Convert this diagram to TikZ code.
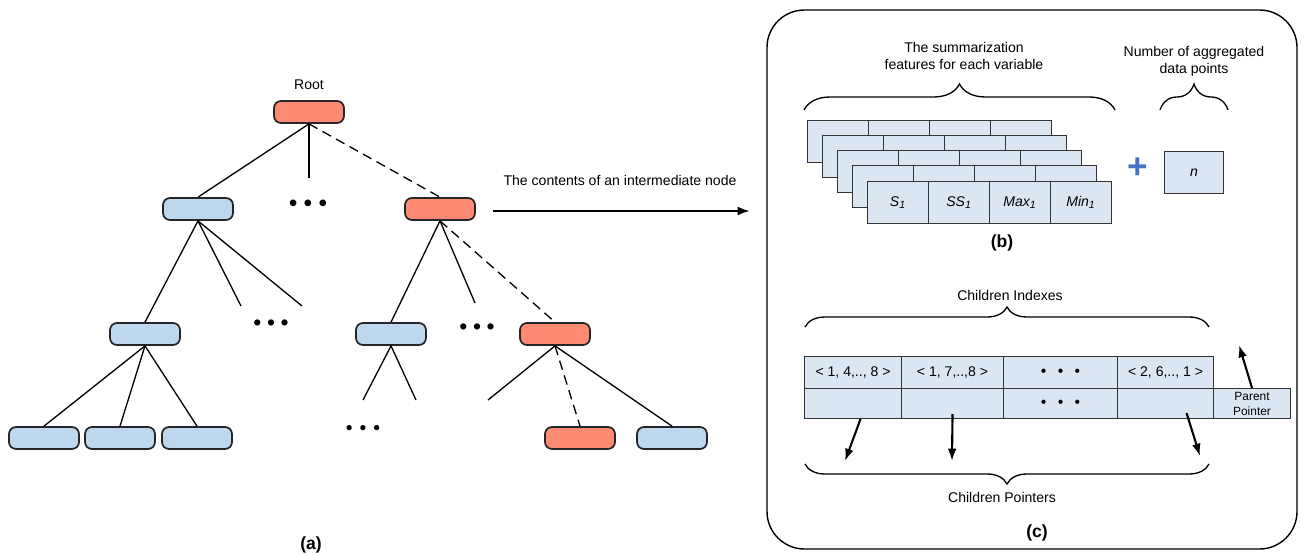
\documentclass[tikz,border=0pt]{standalone}
\usepackage{fontspec}
\setmainfont{Liberation Sans}
\usetikzlibrary{arrows.meta,decorations.pathreplacing}

\definecolor{treered}{HTML}{FF8A73}
\definecolor{treeblue}{HTML}{BDD7EE}
\definecolor{cellblue}{HTML}{DCE6F2}
\definecolor{plusblue}{HTML}{4472C4}

% three bullets with a given gap between them
\newcommand{\threedots}[1]{\textbullet\hspace{#1}\textbullet\hspace{#1}\textbullet}

\begin{document}
\begin{tikzpicture}[x=0.02cm, y=-0.02cm,
  txt/.style={font=\fontsize{8}{9.6}\selectfont, align=center, inner sep=0pt},
  tag/.style={font=\fontsize{10}{12}\selectfont\bfseries, inner sep=0pt},
  tnode/.style={draw=black!85, line width=1pt, rounded corners=4pt,
    minimum width=1.4cm, minimum height=0.44cm, inner sep=0pt},
  bnode/.style={tnode, fill=treeblue},
  rnode/.style={tnode, fill=treered},
  link/.style={line width=0.75pt},
  dlink/.style={link, dash pattern=on 5.5pt off 3.3pt},
  cell/.style={draw=black!80, line width=0.6pt, fill=cellblue, anchor=north west,
    inner sep=0pt, font=\fontsize{8}{9.6}\selectfont},
  curly/.style={decorate, decoration={brace, amplitude=#1}, line width=0.75pt},
  ptr/.style={line width=1.2pt, -{Latex[length=7pt,width=5pt]}}
]
\useasboundingbox (0,0) rectangle (1301,554);

% (a) the tree
\node[rnode] (root) at (309,112) {};
\node[txt] (rootlbl) at (309,85) {Root};

\node[bnode] (n1) at (198,209) {};
\node[font=\fontsize{14}{14}\selectfont, inner sep=0pt] (dots1) at (308,206) {\threedots{3.6pt}};
\node[rnode] (n2) at (440,209) {};

\node[bnode] (n11) at (145,334) {};
\node[font=\fontsize{13}{13}\selectfont, inner sep=0pt] (dots11) at (271,325) {\threedots{3.2pt}};
\node[bnode] (n21) at (391,334) {};
\node[font=\fontsize{13}{13}\selectfont, inner sep=0pt] (dots21) at (477,329) {\threedots{3.2pt}};
\node[rnode] (n22) at (555,334) {};

\node[bnode] (l1) at (44,438) {};
\node[bnode] (l2) at (120,438) {};
\node[bnode] (l3) at (197,438) {};
\node[font=\fontsize{11}{11}\selectfont, inner sep=0pt] (dots3) at (363,430) {\threedots{4pt}};
\node[rnode] (l4) at (580,438) {};
\node[bnode] (l5) at (672,438) {};

% loose ends of the edges
\coordinate (s0) at (309,178);
\coordinate (s1) at (241,306);
\coordinate (s2) at (302,306);
\coordinate (s3) at (475,303);
\coordinate (s4) at (363,400);
\coordinate (s5) at (416,400);
\coordinate (s6) at (488,400);

\draw[link] (root.south) -- (n1.north);
\draw[link] (root.south) -- (s0);
\draw[dlink] (root.south) -- (n2.north);

\draw[link] (n1.south) -- (n11.north);
\draw[link] (n1.south) -- (s1);
\draw[link] (n1.south) -- (s2);

\draw[link] (n2.south) -- (n21.north);
\draw[link] (n2.south) -- (s3);
\draw[dlink] (n2.south) -- (n22.north);

\draw[link] (n11.south) -- (l1.north);
\draw[link] (n11.south) -- (l2.north);
\draw[link] (n11.south) -- (l3.north);

\draw[link] (n21.south) -- (s4);
\draw[link] (n21.south) -- (s5);

\draw[link] (n22.south) -- (s6);
\draw[dlink] (n22.south) -- (l4.north);
\draw[link] (n22.south) -- (l5.north);

\node[tag] (capa) at (311,545) {(a)};

% arrow over to the node contents
\coordinate (tail) at (493,211);
\coordinate (head) at (750,211);
\draw[line width=1.2pt, -{Latex[length=7pt,width=5pt]}] (tail) -- (head);
\node[txt] (arrowlbl) at (620,180) {The contents of an intermediate node};

% panel frame
\draw[line width=0.8pt, rounded corners=0.75cm] (767,10) rectangle (1297,549);

% (b) summarization features
\node[txt] (featlbl) at (964,56) {The summarization\\features for each variable};
\node[txt] (countlbl) at (1194,61) {Number of aggregated\\data points};
\draw[curly=0.52cm] (804,110) -- (1115,110);
\draw[curly=0.52cm] (1160,110) -- (1228,110);

\foreach \k in {0,...,3}
  \foreach \j in {0,...,3}
    \node[cell, minimum width=1.22cm, minimum height=0.84cm] (f\k\j) at ({807+15*\k+61*\j},{120+15*\k}) {};
\node[cell, minimum width=1.22cm, minimum height=0.84cm] (s1cell) at (867,181) {\textit{S\textsubscript{1}}};
\node[cell, minimum width=1.22cm, minimum height=0.84cm] (ss1cell) at (928,181) {\textit{SS\textsubscript{1}}};
\node[cell, minimum width=1.22cm, minimum height=0.84cm] (max1cell) at (989,181) {\textit{Max\textsubscript{1}}};
\node[cell, minimum width=1.22cm, minimum height=0.84cm] (min1cell) at (1050,181) {\textit{Min\textsubscript{1}}};

\node[font=\fontsize{20}{20}\selectfont\bfseries, text=plusblue, inner sep=0pt] (plus) at (1138,168) {+};
\node[cell, minimum width=1.18cm, minimum height=0.84cm] (nbox) at (1164,151) {\textit{n}};

\node[tag] (capb) at (1002,243) {(b)};

% (c) children indexes and pointers
\node[txt] (idxlbl) at (1010,295) {Children Indexes};
\draw[curly=0.4cm] (805,327) -- (1209,327);

\node[cell, minimum width=1.94cm, minimum height=0.64cm] (i1) at (804,356) {< 1, 4,.., 8 >};
\node[cell, minimum width=2.04cm, minimum height=0.64cm] (i2) at (901,356) {< 1, 7,..,8 >};
\node[cell, minimum width=2.28cm, minimum height=0.64cm, font=\fontsize{9}{9}\selectfont] (i3) at (1003,356) {\threedots{6.4pt}};
\node[cell, minimum width=1.92cm, minimum height=0.64cm] (i4) at (1117,356) {< 2, 6,.., 1 >};

\node[cell, minimum width=1.94cm, minimum height=0.6cm] (p1) at (804,388) {};
\node[cell, minimum width=2.04cm, minimum height=0.6cm] (p2) at (901,388) {};
\node[cell, minimum width=2.28cm, minimum height=0.6cm, font=\fontsize{9}{9}\selectfont] (p3) at (1003,388) {\threedots{6.4pt}};
\node[cell, minimum width=1.92cm, minimum height=0.6cm] (p4) at (1117,388) {};
\node[cell, minimum width=1.54cm, minimum height=0.6cm, align=center,
  font=\fontsize{6.8}{8.5}\selectfont] (pp) at (1213,388) {Parent\\Pointer};

\coordinate (c1) at (845,461);
\coordinate (c2) at (952,461);
\coordinate (c3) at (1200,456);
\coordinate (up) at (1239,345);
\draw[ptr] ([xshift=0.15cm]p1.south) -- (c1);
\draw[ptr] ([yshift=0.1cm]p2.south) -- (c2);
\draw[ptr] ([xshift=0.42cm,yshift=0.12cm]p4.south) -- (c3);
\draw[ptr] (pp.north) -- (up);

\draw[curly=0.4cm] (1209,464) -- (805,464);
\node[txt] (ptrlbl) at (1002,497) {Children Pointers};

\node[tag] (capc) at (1037,533) {(c)};
\end{tikzpicture}
\end{document}
